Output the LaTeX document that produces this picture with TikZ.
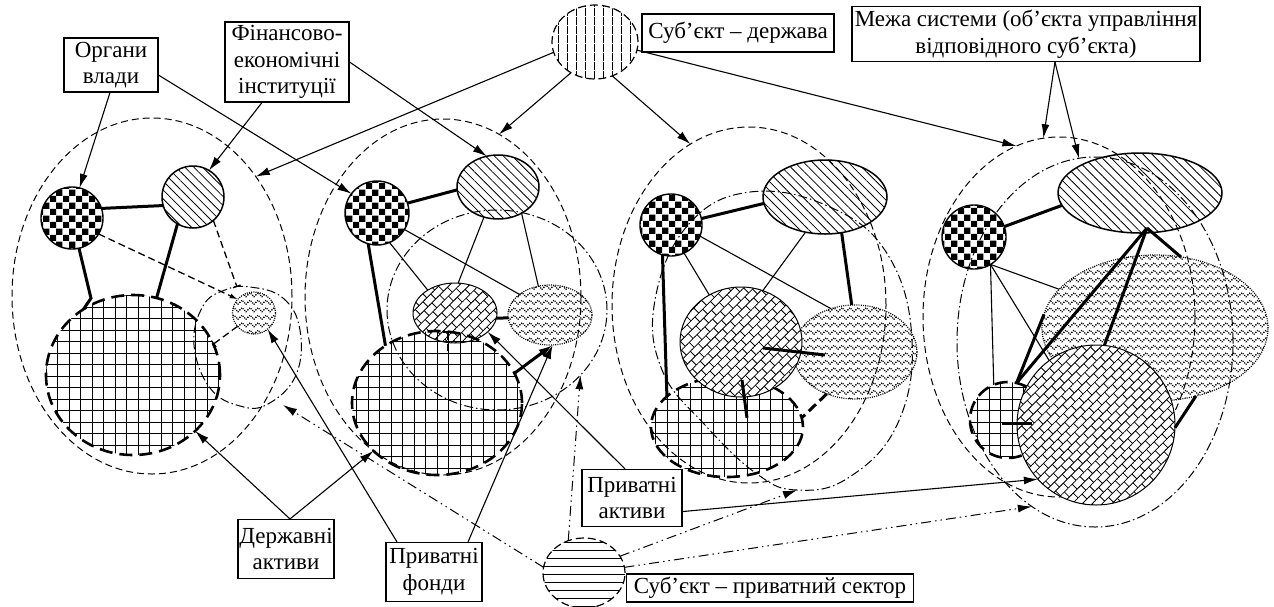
\documentclass[tikz,border=0pt]{standalone}
\usepackage{fontspec}
\setmainfont{Liberation Serif}
\usetikzlibrary{shapes.geometric,patterns,patterns.meta,arrows.meta}

\tikzdeclarepattern{name=chk, type=uncolored, tile size={(12.6pt,12.6pt)},
  bounding box={(0pt,0pt) and (12.6pt,12.6pt)},
  code={\fill (0pt,0pt) rectangle (6.3pt,6.3pt); \fill (6.3pt,6.3pt) rectangle (12.6pt,12.6pt);}}
\tikzdeclarepattern{name=waves, type=uncolored, tile size={(8pt,7.5pt)},
  bounding box={(-0.5pt,-0.5pt) and (8.5pt,8pt)},
  code={\draw[line width=1.15pt] (-0.5pt,3.75pt) -- (0pt,3.75pt) -- (2pt,5.75pt) -- (4pt,3.75pt) -- (6pt,1.75pt) -- (8pt,3.75pt) -- (8.5pt,3.75pt);}}
\tikzdeclarepattern{name=bricks, type=uncolored, tile size={(11pt,14pt)},
  tile transformation={rotate=45},
  bounding box={(-0.5pt,-0.5pt) and (11.5pt,14.5pt)},
  code={\draw[line width=0.8pt] (-0.5pt,0pt) -- (11.5pt,0pt) (-0.5pt,7pt) -- (11.5pt,7pt) (2.75pt,0pt) -- (2.75pt,7pt) (8.25pt,7pt) -- (8.25pt,14pt);}}
\tikzdeclarepattern{name=grd, type=uncolored, tile size={(11.5pt,11.5pt)},
  bounding box={(-0.5pt,-0.5pt) and (12pt,12pt)},
  code={\draw[line width=0.7pt] (-0.5pt,0pt) -- (12pt,0pt) (0pt,-0.5pt) -- (0pt,12pt);}}

\tikzset{
  sz/.style 2 args={minimum width=#1, minimum height=#2},
  shp/.style={ellipse, inner sep=0pt, outer sep=0pt},
  chkc/.style={shp, draw, line width=1.4pt, pattern=chk},
  diac/.style={shp, draw, line width=1.5pt, pattern={Lines[angle=-45,distance=6.3pt,line width=0.8pt]}},
  brkc/.style={shp, draw, line width=1pt, preaction={fill=white}, pattern=bricks},
  wavc/.style={shp, draw, line width=1.2pt, dash pattern=on 1pt off 1.2pt, pattern=waves},
  grdc/.style={shp, draw, line width=2.6pt, dash pattern=on 13pt off 7pt, pattern=grd},
  outerb/.style={shp, draw, line width=1pt, dash pattern=on 7pt off 4pt},
  innerb/.style={line width=1pt, dash pattern=on 9pt off 3pt on 1.5pt off 3pt},
  innern/.style={shp, draw, innerb},
  thn/.style={line width=1.1pt},
  thk/.style={line width=3pt},
  dsh/.style={line width=1.3pt, dash pattern=on 7pt off 4pt},
  arr/.style={-{Latex[length=14pt,width=8pt]}},
  ddot/.style={line width=1pt, dash pattern=on 10pt off 4pt on 1.5pt off 4pt on 1.5pt off 4pt},
  lbl/.style={draw, line width=1.1pt, fill=white, align=center, inner sep=0pt, font=\fontsize{23}{26.5}\selectfont},
}

\begin{document}
\begin{tikzpicture}[x=1pt, y=-1pt]
\useasboundingbox (0,0) rectangle (1274,606);

% ---------- boundaries ----------
\node[outerb, sz={280pt}{356pt}] (out1) at (152,296) {};
\node[outerb, sz={276pt}{356pt}] (out2) at (443,297) {};
\node[outerb, sz={274pt}{356pt}] (out3) at (749,305) {};
\node[outerb, sz={272pt}{360pt}] (out4) at (1059,317) {};

\draw[innerb] plot[smooth cycle, tension=0.7] coordinates {(250,287) (283,298) (300,330) (296,375) (268,404) (240,406) (210,388) (194,345) (203,306) (225,290)};
\node[innern, sz={220pt}{200pt}] (in2) at (497,310) {};
\draw[innerb] plot[smooth cycle, tension=0.7] coordinates {(750,192) (830,207) (888,255) (912,340) (897,425) (848,478) (797,490) (757,474) (705,425) (662,370) (655,300) (688,225)};
\node[innern, sz={276pt}{370pt}] (in4) at (1095,342) {};
\coordinate (in1tip) at (283,405);
\coordinate (in3tip) at (797,490);

% ---------- subjects ----------
\node[shp, draw, line width=1.2pt, dash pattern=on 8pt off 4pt, pattern={Lines[angle=90,distance=9pt,line width=0.9pt]}, sz={86pt}{74pt}] (st) at (595,42) {};
\node[shp, draw, line width=1.2pt, dash pattern=on 8pt off 4pt, pattern={Lines[angle=0,distance=8pt,line width=0.9pt]}, sz={82pt}{70pt}] (ps) at (584,573) {};

% ---------- group 1 ----------
\node[grdc, sz={174pt}{160pt}] (grd1) at (133,375) {};
\node[wavc, sz={43pt}{42pt}] (wav1) at (254,313) {};
\node[diac, sz={62pt}{62pt}] (dia1) at (193,197) {};
\node[chkc, sz={62pt}{62pt}] (chk1) at (72,218) {};
\coordinate (t1) at (237,287);
\draw[thk] (chk1.18) -- (dia1.196);
\draw[thk] (chk1.-77) -- ++(12,50) -- (grd1.127);
\draw[thk] (dia1.240) -- (grd1.73);
\draw[dsh, -{Latex[length=8pt,width=5pt]}] (chk1.-31) -- (wav1.140);
\draw[dsh, -{Bar[width=8pt]}] (dia1.-49) -- (t1);
\draw[dsh, -{Bar[width=8pt]}] (wav1.219) -- (grd1.21);

% ---------- group 2 ----------
\node[brkc, sz={84pt}{60pt}] (brk2) at (455,313) {};
\node[wavc, sz={84pt}{60pt}] (wav2) at (550,315) {};
\node[grdc, sz={170pt}{144pt}] (grd2) at (437,403) {};
\node[diac, sz={82pt}{64pt}] (dia2) at (498,187) {};
\node[chkc, sz={64pt}{64pt}] (chk2) at (377,213) {};
\draw[thk] (chk2.18) -- (dia2.184);
\draw[thk] (chk2.254) -- (grd2.132);
\draw[thn] (chk2.-67) -- (brk2.140);
\draw[thn] (chk2.-31) -- (wav2.146);
\draw[thn] (dia2.245) -- (brk2.84);
\draw[thn] (dia2.-48) -- (wav2.112);
\draw[thk] (brk2.-7) -- (wav2.184);
\draw[line width=1.5pt, dash pattern=on 8pt off 4pt, {Bar[width=10pt]}-] ([xshift=11pt]grd2.north) -- ++(0,20);
\draw[thk, -{Latex[length=14pt,width=9pt]}] (grd2.21) -- (wav2.-85);

% ---------- group 3 ----------
\node[grdc, sz={152pt}{100pt}] (grd3) at (727,427) {};
\node[wavc, sz={124pt}{94pt}] (wav3) at (855,352) {};
\node[brkc, sz={122pt}{110pt}] (brk3) at (741,342) {};
\node[diac, sz={124pt}{74pt}] (dia3) at (825,197) {};
\node[chkc, sz={62pt}{62pt}] (chk3) at (671,225) {};
\draw[thk] (chk3.12) -- (dia3.186);
\draw[thk] (chk3.254) -- (grd3.153);
\draw[thn] (chk3.-65) -- (brk3.124);
\draw[thn] (chk3.-21) -- (wav3.119);
\draw[thn] (dia3.241) -- (brk3.67);
\draw[thk] (dia3.-65) -- (wav3.94);
\draw[thk] ([shift={(22,6)}]brk3.center) -- ++(62,7);
\draw[thk] ([shift={(1,38)}]brk3.center) -- ++(5,38);
\draw[thk, dash pattern=on 10pt off 5pt] (wav3.236) -- (grd3.7);

% ---------- group 4 ----------
\node[grdc, sz={76pt}{76pt}] (grd4) at (1008,420) {};
\node[wavc, sz={226pt}{146pt}] (wav4) at (1155,328) {};
\node[brkc, sz={158pt}{160pt}] (brk4) at (1096,425) {};
\node[diac, sz={164pt}{80pt}] (dia4) at (1140,193) {};
\node[chkc, sz={64pt}{64pt}] (chk4) at (974,237) {};
\coordinate (d4) at (1147,228);
\draw[thk] (chk4.19) -- (dia4.189);
\draw[thn] (chk4.-59) -- (grd4.112);
\draw[thn] (chk4.-59) -- (brk4.126);
\draw[thn] (chk4.-59) -- (wav4.158);
\draw[thk] (d4) -- (grd4.77);
\draw[thk] (d4) -- (brk4.84);
\draw[thk] (d4) -- (wav4.70);
\draw[thk] (wav4.173) -- (grd4.77);
\draw[thk] (wav4.-59) -- (brk4.-2);
\draw[thk] ([shift={(-6,3)}]grd4.center) -- ++(30,0);

% ---------- labels ----------
\node[lbl, sz={94pt}{54pt}] (org) at (111,65) {Органи\\влади};
\node[lbl, sz={124pt}{80pt}] (fin) at (287,62) {Фінансово-\\економічні\\інституції};
\node[lbl, sz={192pt}{38pt}] (stl) at (738,33) {Суб’єкт – держава};
\node[lbl, sz={348pt}{55pt}] (mz) at (1026,34) {Межа системи (об’єкта управління\\відповідного суб’єкта)};
\node[lbl, sz={96pt}{59pt}] (da) at (286,549) {Державні\\активи};
\node[lbl, sz={96pt}{59pt}] (pf) at (434,572) {Приватні\\фонди};
\node[lbl, sz={100pt}{57pt}] (pa) at (632,498) {Приватні\\активи};
\node[lbl, sz={287pt}{28pt}] (psl) at (770,588) {Суб’єкт – приватний сектор};

% ---------- annotation arrows ----------
\draw[thn,arr] ([xshift=-1pt]org.south) -- (chk1.76);
\draw[thn,arr] (org.-12) -- (chk2.143);
\draw[thn,arr] ([xshift=-25pt]fin.south) -- (dia1.59);
\draw[thn,arr] (fin.east) -- (dia2.110);
\draw[thn,arr] (st.194) -- (out1.49);
\draw[thn,arr] (st.232) -- (out2.71);
\draw[thn,arr] (st.-63) -- (out3.110);
\draw[thn,arr] (st.-11) -- (out4.104);
\draw[thn,arr] ([xshift=29pt]mz.south) -- (out4.95);
\draw[thn,arr] ([xshift=29pt]mz.south) -- (in4.95);
\draw[thn,arr] ([xshift=4pt]da.north) -- (grd1.-42);
\draw[thn,arr] ([xshift=4pt]da.north) -- (grd2.217);
\draw[thn,arr] ([xshift=-37pt]pf.north) -- (wav1.-50);
\draw[thn,arr] ([xshift=34pt]pf.north) -- (wav2.-85);
\draw[thn,arr] ([xshift=-7pt]pa.north) -- (brk2.-30);
\draw[thn,arr] (pa.-15) -- (brk4.223);
\draw[ddot,arr] (ps.172) -- (in1tip);
\draw[ddot,arr] (ps.116) -- (in2.-38);
\draw[ddot,arr] (ps.25) -- (in3tip);
\draw[ddot,arr] (ps.8) -- (in4.249);
\end{tikzpicture}
\end{document}
